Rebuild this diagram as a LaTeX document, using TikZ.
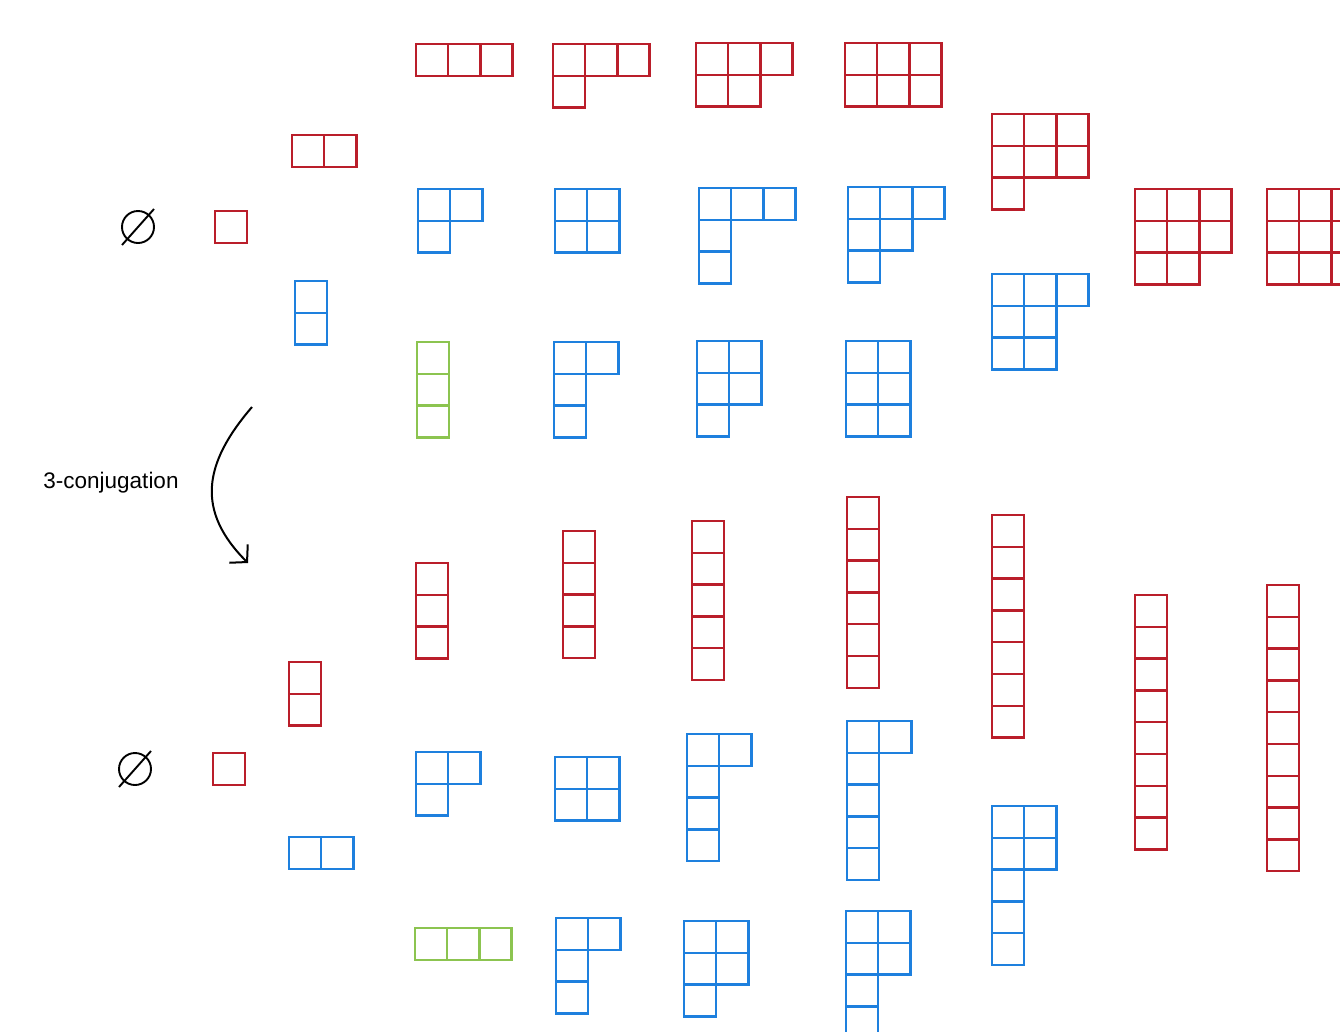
\documentclass[tikz,border=0pt]{standalone}
\usepackage{fontspec}
\setmainfont{Liberation Sans}
\usetikzlibrary{arrows.meta}
\definecolor{ydred}{RGB}{186,30,42}
\definecolor{ydblue}{RGB}{30,128,222}
\definecolor{ydgreen}{RGB}{140,196,80}
\def\ycw{32.2}
\def\ych{31.8}
\tikzset{
  cellline/.style={line width=2.3pt, line join=miter},
  emptyset/.style={line width=1.9pt, black},
  conjarrow/.style={line width=2pt, black, -{Straight Barb[length=12pt,width=26pt,line width=2pt]}},
  conjlabel/.style={font=\fontsize{22.5}{26}\selectfont, inner sep=0pt, anchor=base}
}
% #1 x, #2 y (top-left, pixels from top), #3 colour, #4 row lengths
\newcommand{\ydiag}[4]{%
  \draw[#3, cellline] foreach \len [count=\r from 0] in {#4} {
    foreach \c in {1,...,\len} {
      ({#1+(\c-1)*\ycw},{#2+\r*\ych}) rectangle ++(\ycw,\ych)
    }
  };%
}
\begin{document}
\begin{tikzpicture}[x=1pt,y=-1pt]
\clip (0,0) rectangle (1340,1031);
\fill[white] (0,0) rectangle (1340,1031);

% empty set symbols
\draw[emptyset] (138,227) circle (16);
\draw[emptyset] (122,245) -- (154,209);
\draw[emptyset] (135,769) circle (16);
\draw[emptyset] (119,787) -- (151,751);

% top half
\ydiag{215}{211}{ydred}{1}
\ydiag{292}{135}{ydred}{2}
\ydiag{295}{281}{ydblue}{1,1}
\ydiag{416}{44}{ydred}{3}
\ydiag{553}{44}{ydred}{3,1}
\ydiag{696}{43}{ydred}{3,2}
\ydiag{845}{43}{ydred}{3,3}
\ydiag{418}{189}{ydblue}{2,1}
\ydiag{555}{189}{ydblue}{2,2}
\ydiag{699}{188}{ydblue}{3,1,1}
\ydiag{848}{187}{ydblue}{3,2,1}
\ydiag{417}{342}{ydgreen}{1,1,1}
\ydiag{554}{342}{ydblue}{2,1,1}
\ydiag{697}{341}{ydblue}{2,2,1}
\ydiag{846}{341}{ydblue}{2,2,2}
\ydiag{992}{114}{ydred}{3,3,1}
\ydiag{992}{274}{ydblue}{3,2,2}
\ydiag{1135}{189}{ydred}{3,3,2}
\ydiag{1267}{189}{ydred}{3,3,3}

% bottom half
\ydiag{213}{753}{ydred}{1}
\ydiag{289}{662}{ydred}{1,1}
\ydiag{289}{837}{ydblue}{2}
\ydiag{416}{563}{ydred}{1,1,1}
\ydiag{563}{531}{ydred}{1,1,1,1}
\ydiag{692}{521}{ydred}{1,1,1,1,1}
\ydiag{847}{497}{ydred}{1,1,1,1,1,1}
\ydiag{992}{515}{ydred}{1,1,1,1,1,1,1}
\ydiag{1135}{595}{ydred}{1,1,1,1,1,1,1,1}
\ydiag{1267}{585}{ydred}{1,1,1,1,1,1,1,1,1}
\ydiag{416}{752}{ydblue}{2,1}
\ydiag{555}{757}{ydblue}{2,2}
\ydiag{687}{734}{ydblue}{2,1,1,1}
\ydiag{847}{721}{ydblue}{2,1,1,1,1}
\ydiag{415}{928}{ydgreen}{3}
\ydiag{556}{918}{ydblue}{2,1,1}
\ydiag{684}{921}{ydblue}{2,2,1}
\ydiag{846}{911}{ydblue}{2,2,1,1}
\ydiag{992}{806}{ydblue}{2,2,1,1,1}

% 3-conjugation arrow and label
\coordinate (arrowstart) at (252,407);
\coordinate (arrowend) at (248,563);
\draw[conjarrow] (arrowstart) .. controls (203,464) and (196,511) .. (arrowend);
\node[conjlabel] (conjtext) at (111,488) {3-conjugation};
\end{tikzpicture}
\end{document}
